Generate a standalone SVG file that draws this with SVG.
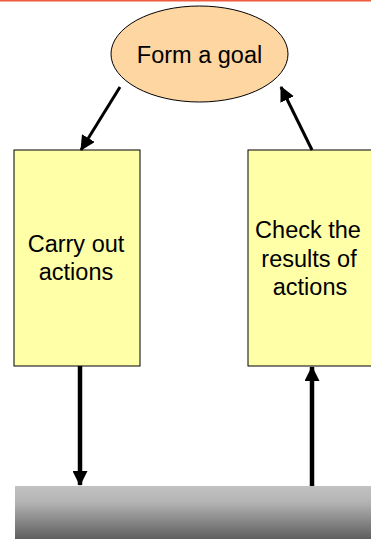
<svg xmlns="http://www.w3.org/2000/svg" width="371" height="539" viewBox="0 0 371 539">
<defs>
<style>
.lbl{font-family:"Liberation Sans",Arial,sans-serif;font-size:23.5px;fill:#000;text-anchor:middle}
.box{fill:#FFFFA8;stroke:#000;stroke-width:1}
.conn{stroke:#000;fill:none}
</style>
<linearGradient id="gray" x1="0" y1="0" x2="0" y2="1">
<stop offset="0" stop-color="#C2C2C2"/>
<stop offset="0.3" stop-color="#B4B4B4"/>
<stop offset="1" stop-color="#5E5E5E"/>
</linearGradient>
<marker id="ah2" markerWidth="15" markerHeight="15" refX="14" refY="7.5" orient="auto" markerUnits="userSpaceOnUse" viewBox="0 0 15 15">
<path d="M0,0 L15,7.5 L0,15 Z" fill="#000"/>
</marker>
</defs>
<rect x="0" y="0" width="371" height="539" fill="#fff"/>
<line x1="0" y1="0.8" x2="371" y2="0.8" stroke="#F05A3C" stroke-width="1.6"/>
<g id="bar">
<rect x="15" y="486" width="360" height="53" fill="url(#gray)"/>
</g>
<g id="goal">
<ellipse cx="199.5" cy="54" rx="88.5" ry="48" fill="#FDD6A2" stroke="#000" stroke-width="1"/>
<text class="lbl" x="199.5" y="63">Form a goal</text>
</g>
<g id="carry">
<rect class="box" x="14" y="150" width="126" height="216"/>
<text class="lbl" x="76" y="252">Carry out</text>
<text class="lbl" x="76" y="280">actions</text>
</g>
<g id="check">
<rect class="box" x="248" y="150" width="130" height="216"/>
<text class="lbl" x="308" y="238">Check the</text>
<text class="lbl" x="309" y="267">results of</text>
<text class="lbl" x="310" y="295">actions</text>
</g>
<g id="connectors">
<line class="conn" x1="120" y1="87" x2="81" y2="150" stroke-width="3" marker-end="url(#ah2)"/>
<line class="conn" x1="312" y1="150" x2="281" y2="87" stroke-width="3" marker-end="url(#ah2)"/>
<line class="conn" x1="80" y1="366" x2="80" y2="485" stroke-width="4.5" marker-end="url(#ah2)"/>
<line class="conn" x1="312" y1="486" x2="312" y2="367" stroke-width="4.5" marker-end="url(#ah2)"/>
</g>
</svg>
